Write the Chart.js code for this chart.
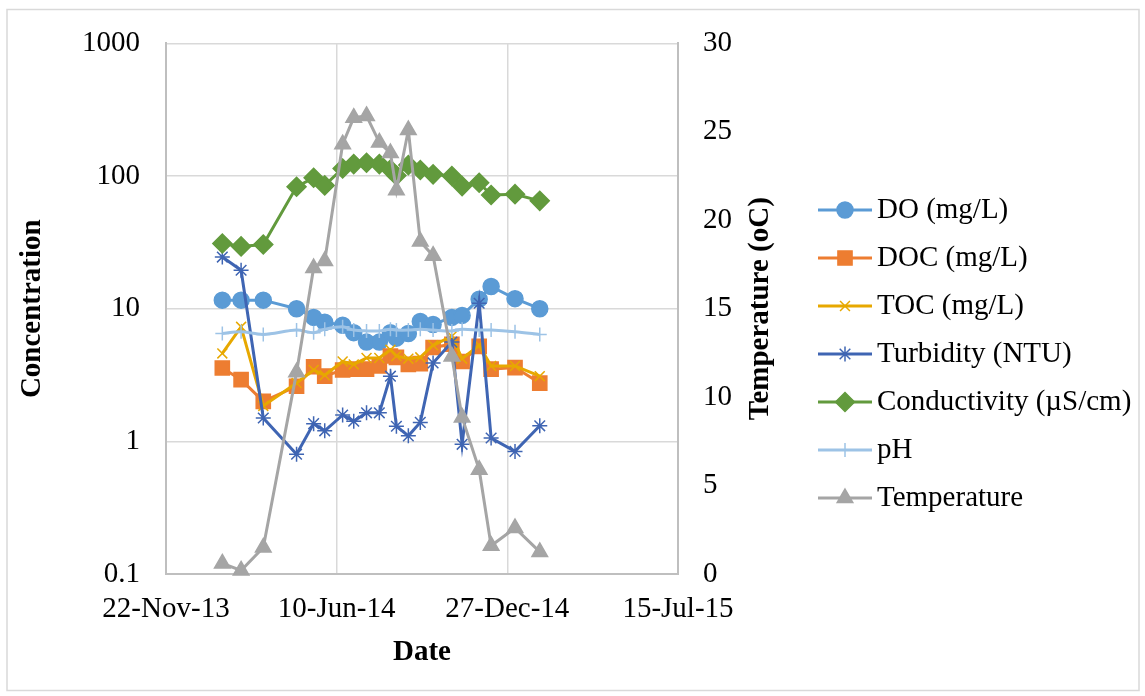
<!DOCTYPE html>
<html>
<head>
<meta charset="utf-8">
<script src="https://cdn.jsdelivr.net/npm/chart.js@4.4.1/dist/chart.umd.min.js"></script>
<style>
  html, body { margin:0; padding:0; background:#fff; }
</style>
</head>
<body>
<canvas id="myChart" width="1145" height="696"></canvas>
<script>
// sampling dates
const sampleDates = [
  '2014-01-27', '2014-02-18', '2014-03-16', '2014-04-24', '2014-05-14',
  '2014-05-27', '2014-06-17', '2014-06-30', '2014-07-15', '2014-07-30',
  '2014-08-12', '2014-08-19', '2014-09-02', '2014-09-16', '2014-10-01',
  '2014-10-23', '2014-11-04', '2014-11-24', '2014-12-08', '2015-01-05',
  '2015-02-03'
];

// left axis (log) series
const doValues = [11.6, 11.6, 11.6, 10.0, 8.6, 7.9, 7.5, 6.6, 5.6, 5.6, 6.6, 6.0, 6.5, 8.0, 7.6, 8.6, 8.9, 11.8, 14.7, 11.9, 10.0];
const docValues = [3.57, 2.92, 2.0, 2.6, 3.65, 3.1, 3.45, 3.5, 3.5, 3.7, 4.4, 4.3, 3.8, 3.85, 5.1, 5.4, 4.0, 5.2, 3.5, 3.6, 2.75];
const tocValues = [4.6, 7.3, 1.85, 2.75, 3.45, 3.15, 4.0, 3.8, 4.25, 4.25, 4.9, 4.4, 4.2, 4.3, 5.3, 6.2, 4.2, 5.3, 3.7, 3.7, 3.1];
const turbidityValues = [24.5, 19.5, 1.5, 0.8, 1.36, 1.2, 1.58, 1.42, 1.64, 1.64, 3.1, 1.3, 1.1, 1.39, 3.9, 5.6, 0.95, 11, 1.06, 0.84, 1.31];
const conductivityValues = [31, 29.5, 30.5, 83, 97, 85, 114, 123, 126, 123, 112, 101, 121, 111, 103, 100, 84, 89, 72, 73, 65];
const phValues = [6.5, 6.7, 6.4, 6.9, 6.6, 7.0, 7.3, 6.9, 6.8, 6.8, 7.0, 6.9, 6.9, 7.0, 6.9, 6.8, 7.0, 6.9, 6.9, 6.7, 6.4];
// right axis
const temperatureValues = [0.6, 0.2, 1.5, 11.4, 17.3, 17.7, 24.3, 25.8, 25.9, 24.4, 23.8, 21.7, 25.1, 18.8, 18.0, 12.3, 8.85, 5.9, 1.6, 2.6, 1.25];

// tick labels
const concTicks = [0.1, 1, 10, 100, 1000];
const dateTicks = ['2013-11-22', '2014-06-10', '2014-12-27', '2015-07-15'];

const months = ['Jan','Feb','Mar','Apr','May','Jun','Jul','Aug','Sep','Oct','Nov','Dec'];
const origin = Date.parse(dateTicks[0]);
const toDays = s => (Date.parse(s) - origin) / 86400000;
const fmtDate = days => {
  const d = new Date(origin + days * 86400000);
  return d.getUTCDate() + '-' + months[d.getUTCMonth()] + '-' + String(d.getUTCFullYear()).slice(2);
};
const dayNums = sampleDates.map(toDays);
const tickDays = dateTicks.map(toDays);

const fontFamily = '"Liberation Serif", "Times New Roman", serif';
Chart.defaults.font.family = fontFamily;
Chart.defaults.font.size = 29;
Chart.defaults.color = '#000';

function series(label, values, color, style, radius, extra) {
  return Object.assign({
    label: label,
    data: values.map((v, i) => ({x: dayNums[i], y: v})),
    borderColor: color,
    backgroundColor: color,
    pointBorderColor: color,
    pointBackgroundColor: color,
    pointStyle: style,
    pointRadius: radius,
    pointHoverRadius: radius,
    borderWidth: 3,
    pointBorderWidth: 1.5,
    yAxisID: 'y',
    tension: 0,
    clip: 12
  }, extra || {});
}

const datasets = [
  series('DO (mg/L)', doValues, '#5b9bd5', 'circle', 8, {order: 7}),
  series('DOC (mg/L)', docValues, '#ed7d31', 'rect', 10, {order: 6}),
  series('TOC (mg/L)', tocValues, '#e7a800', 'crossRot', 7, {order: 5}),
  series('Turbidity (NTU)', turbidityValues, '#3f65b3', 'star', 7.5, {order: 4}),
  series('Conductivity (\u00b5S/cm)', conductivityValues, '#629a3d', 'rectRot', 9.5, {order: 3}),
  series('pH', phValues, '#9dc3e6', 'cross', 7, {order: 2, tension: 0.3}),
  series('Temperature', temperatureValues, '#a5a5a5', 'triangle', 9, {order: 1, yAxisID: 'y1'})
];

const frame = {
  id: 'frame',
  beforeDraw(chart) {
    const ctx = chart.ctx;
    ctx.save();
    ctx.fillStyle = '#fff';
    ctx.fillRect(0, 0, chart.width, chart.height);
    ctx.strokeStyle = '#d9d9d9';
    ctx.lineWidth = 1.5;
    ctx.strokeRect(7, 9.5, 1132, 681);
    ctx.restore();
  },
  afterDraw(chart) {
    const ctx = chart.ctx;
    const area = chart.chartArea;
    ctx.save();
    // right axis title
    ctx.translate(761, (area.top + area.bottom) / 2);
    ctx.rotate(-Math.PI / 2);
    ctx.font = 'bold 29px ' + fontFamily;
    ctx.fillStyle = '#000';
    ctx.textAlign = 'center';
    ctx.textBaseline = 'middle';
    ctx.fillText('Temperature (oC)', 0, 0);
    ctx.restore();

    // legend
    ctx.save();
    chart.data.datasets.forEach((ds, i) => {
      const y = 210 + i * 48;
      ctx.strokeStyle = ds.borderColor;
      ctx.lineWidth = 3;
      ctx.beginPath();
      ctx.moveTo(818, y);
      ctx.lineTo(872, y);
      ctx.stroke();
      ctx.fillStyle = ds.backgroundColor;
      ctx.lineWidth = ds.pointBorderWidth;
      Chart.helpers.drawPoint(ctx, {
        pointStyle: ds.pointStyle, radius: ds.pointRadius,
        borderWidth: ds.pointBorderWidth, rotation: 0
      }, 845, y);
      ctx.fillStyle = '#000';
      ctx.font = '29px ' + fontFamily;
      ctx.textAlign = 'left';
      ctx.textBaseline = 'middle';
      ctx.fillText(ds.label, 877, y);
    });
    ctx.restore();
  }
};

const gridColor = '#d9d9d9';
const axisColor = '#bfbfbf';

const config = {
  type: 'line',
  data: {datasets: datasets},
  options: {
    responsive: false,
    animation: false,
    layout: {padding: {top: 40, right: 370, left: 0, bottom: 0}},
    plugins: {legend: {display: false}, tooltip: {enabled: false}},
    scales: {
      x: {
        type: 'linear',
        min: tickDays[0],
        max: tickDays[tickDays.length - 1],
        afterBuildTicks: s => { s.ticks = tickDays.map(v => ({value: v})); },
        afterFit: s => { s.height = 122; },
        ticks: {padding: 18, maxRotation: 0, autoSkip: false, callback: v => fmtDate(v)},
        grid: {color: gridColor, lineWidth: 1.5, drawTicks: false},
        border: {color: axisColor, width: 2},
        title: {display: true, text: 'Date', font: {weight: 'bold'}, padding: {top: 0, bottom: 26}}
      },
      y: {
        type: 'logarithmic',
        position: 'left',
        min: concTicks[0],
        max: concTicks[concTicks.length - 1],
        afterBuildTicks: s => { s.ticks = concTicks.map(v => ({value: v})); },
        afterFit: s => { s.width = 166; },
        ticks: {padding: 26, callback: v => String(v)},
        grid: {color: gridColor, lineWidth: 1.5, drawTicks: false},
        border: {color: axisColor, width: 2},
        title: {display: true, text: 'Concentration', font: {weight: 'bold'}, padding: {top: 15, bottom: 0}}
      },
      y1: {
        type: 'linear',
        position: 'right',
        min: 0,
        max: 30,
        afterFit: s => { s.width = 97; },
        ticks: {stepSize: 5, padding: 25},
        grid: {display: false, drawTicks: false},
        border: {color: axisColor, width: 2}
      }
    }
  },
  plugins: [frame]
};

const myChart = new Chart(document.getElementById('myChart'), config);
</script>
</body>
</html>
